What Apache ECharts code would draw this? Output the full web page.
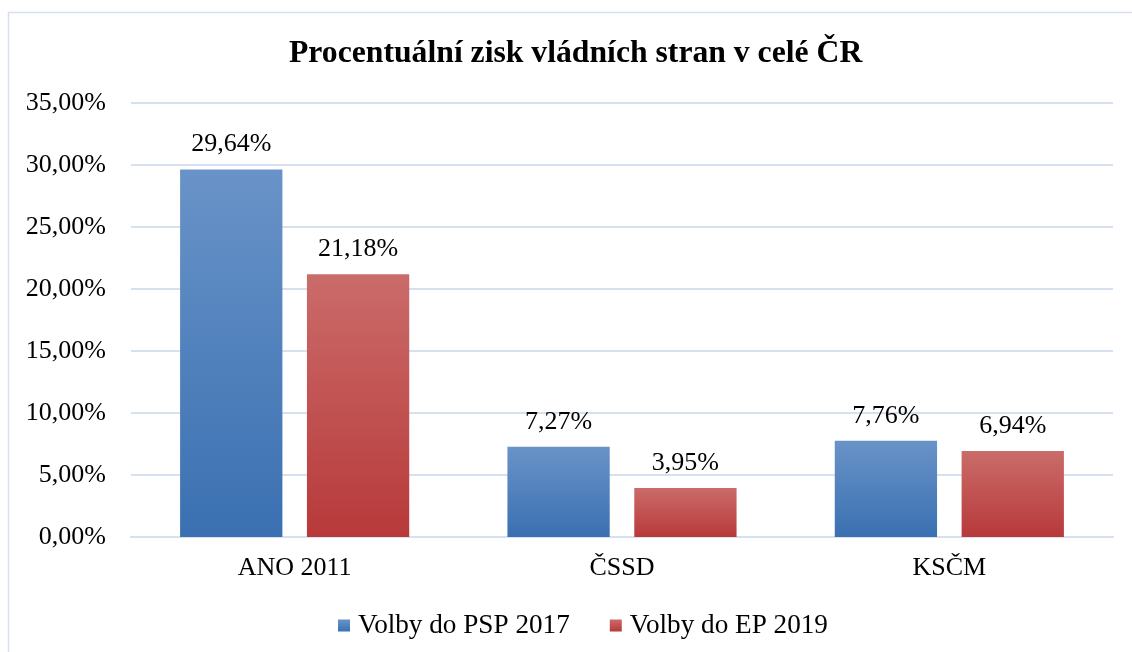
<!DOCTYPE html>
<html>
<head>
<meta charset="utf-8">
<script src="https://cdn.jsdelivr.net/npm/echarts@6/dist/echarts.min.js"></script>
<style>
  html, body { margin: 0; padding: 0; background: #fff; }
  #chart { width: 1132px; height: 652px; }
</style>
</head>
<body>
<div id="chart"></div>
<script>
const categories = ['ANO 2011', 'ČSSD', 'KSČM']
const seriesNames = ['Volby do PSP 2017', 'Volby do EP 2019']
const psp2017 = [29.64, 7.27, 7.76]
const ep2019 = [21.18, 3.95, 6.94]

const fontFamily = '"Liberation Serif", "Times New Roman", serif'
const fmt = v => v.toFixed(2).replace('.', ',') + '%'

function grad(top, bottom) {
  return new echarts.graphic.LinearGradient(0, 0, 0, 1, [
    { offset: 0, color: top },
    { offset: 1, color: bottom }
  ])
}

const chart = echarts.init(document.getElementById('chart'))
chart.setOption({
  animation: false,
  graphic: [
    {
      type: 'rect',
      shape: { x: 8.5, y: 12.5, width: 1200, height: 700 },
      style: { fill: 'none', stroke: '#d6e0ee', lineWidth: 1.5 },
      silent: true
    }
  ],
  title: {
    text: 'Procentuální zisk vládních stran v celé ČR',
    left: 284,
    top: 33,
    textStyle: { fontFamily: fontFamily, fontSize: 31.7, fontWeight: 'bold', color: '#000' }
  },
  legend: {
    top: 607,
    left: 333,
    itemWidth: 12,
    itemHeight: 12,
    itemGap: 40,
    icon: 'rect',
    textStyle: { fontFamily: fontFamily, fontSize: 27.2, color: '#000', padding: [0, 0, 0, 3] },
    data: seriesNames
  },
  grid: {
    left: 131,
    right: 19,
    top: 103,
    height: 434
  },
  xAxis: {
    type: 'category',
    data: categories,
    axisTick: { show: false },
    axisLine: { lineStyle: { color: '#d6e0ee', width: 2 } },
    axisLabel: { fontFamily: fontFamily, fontSize: 26, color: '#000', margin: 18 }
  },
  yAxis: {
    type: 'value',
    min: 0,
    max: 35,
    interval: 5,
    axisLine: { show: false },
    axisTick: { show: false },
    axisLabel: { fontFamily: fontFamily, fontSize: 26, color: '#000', margin: 25, formatter: fmt },
    splitLine: { lineStyle: { color: '#d6e0ee', width: 2 } }
  },
  series: [
    {
      name: seriesNames[0],
      type: 'bar',
      data: psp2017,
      barGap: '24%',
      barCategoryGap: '30%',
      itemStyle: { color: grad('#6993c8', '#3a70b1') },
      label: {
        show: true,
        position: 'top',
        distance: 12,
        fontFamily: fontFamily,
        fontSize: 26,
        color: '#000',
        formatter: p => fmt(p.value)
      }
    },
    {
      name: seriesNames[1],
      type: 'bar',
      data: ep2019,
      itemStyle: { color: grad('#ca6c6a', '#b8393a') },
      label: {
        show: true,
        position: 'top',
        distance: 12,
        fontFamily: fontFamily,
        fontSize: 26,
        color: '#000',
        formatter: p => fmt(p.value)
      }
    }
  ]
})
</script>
</body>
</html>
